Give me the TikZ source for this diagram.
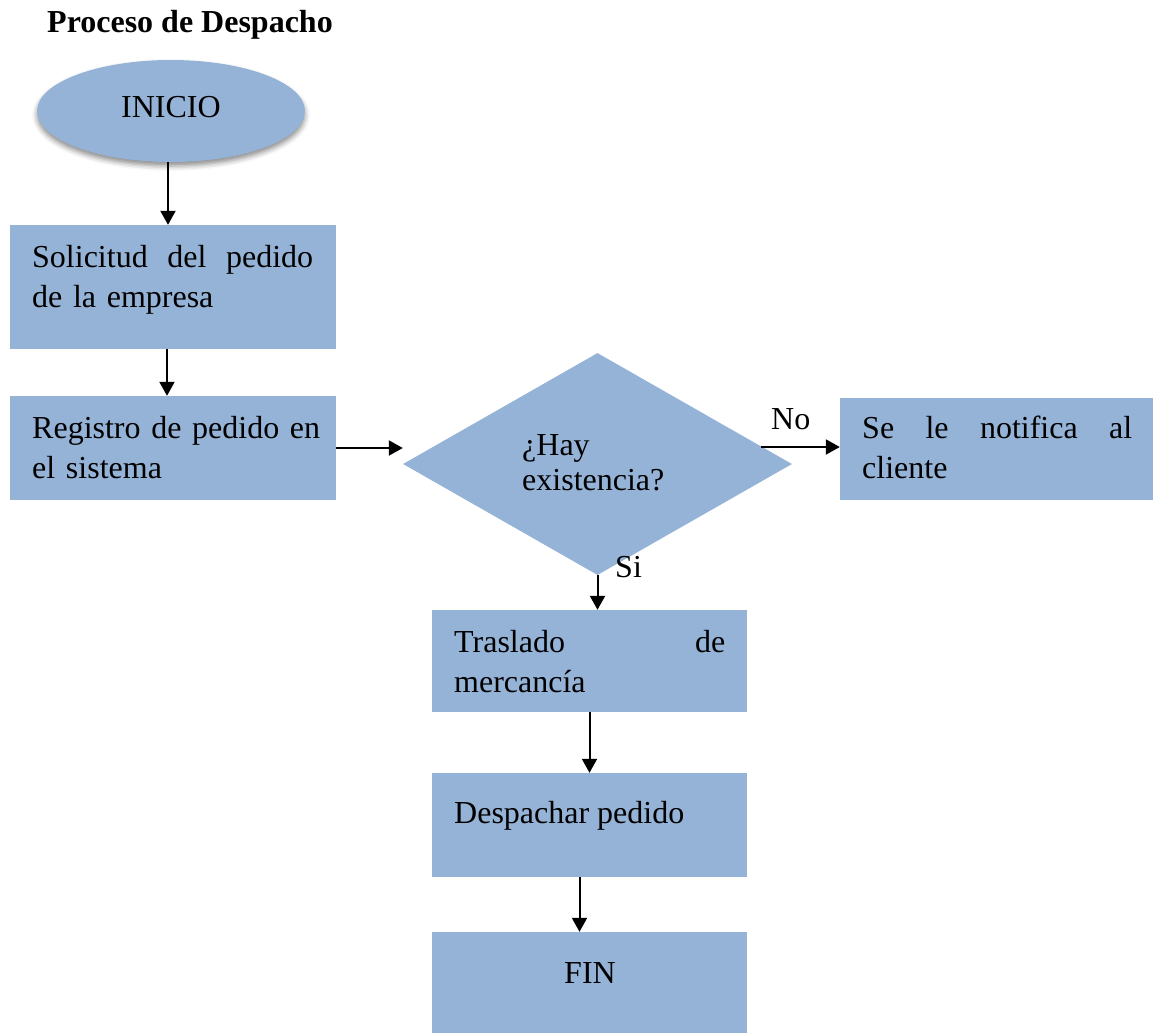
\documentclass[tikz,border=0pt]{standalone}
\usepackage{fontspec}
\setmainfont{Liberation Serif}
\usetikzlibrary{shapes.geometric,arrows.meta,calc,shadows.blur}
\definecolor{boxblue}{RGB}{149,179,215}
\begin{document}
\begin{tikzpicture}[x=1pt,y=-1pt,
  txt/.style={font=\fontsize{32}{40}\selectfont,inner sep=0pt,anchor=base west},
  stepbox/.style={rectangle,fill=boxblue,inner sep=0pt},
  arr/.style={line width=2pt,-{Triangle[length=14pt,width=15pt]}},
  lbl/.style={font=\fontsize{32}{40}\selectfont,inner sep=0pt,anchor=base west}]
\useasboundingbox (0,0) rectangle (1153,1034);

% title
\node[txt,font=\fontsize{32}{40}\selectfont\bfseries] (title) at (47,32) {Proceso de Despacho};

% start ellipse
\node[ellipse,fill=boxblue,minimum width=268pt,minimum height=102pt,inner sep=0pt,
  blur shadow={shadow xshift=0pt,shadow yshift=-4pt,shadow blur radius=5pt,shadow opacity=45}]
  (start) at (171,111) {};
\node[txt,anchor=base] (starttxt) at (171,117) {INICIO};

% process boxes
\node[stepbox,minimum width=326pt,minimum height=124pt] (b1) at (173,287) {};
\node[stepbox,minimum width=326pt,minimum height=104pt] (b2) at (173,448) {};
\node[stepbox,minimum width=313pt,minimum height=102pt] (b3) at (996.5,449) {};
\node[stepbox,minimum width=315pt,minimum height=102pt] (b4) at (589.5,661) {};
\node[stepbox,minimum width=315pt,minimum height=104pt] (b5) at (589.5,825) {};
\node[stepbox,minimum width=315pt,minimum height=101pt] (b6) at (589.5,982.5) {};

% decision
\node[diamond,fill=boxblue,minimum width=389pt,minimum height=222pt,inner sep=0pt] (dia) at (597.5,464) {};

% texts
\node[txt,text width=281pt,align=left] (t1) at (32,267) {Solicitud\hfill del\hfill pedido\\de la empresa};
\node[txt,text width=300pt,align=left] (t2) at (32,438) {\hbox to 281pt{Registro de pedido en}\\el sistema};
\node[txt,text width=270pt,align=left] (t3) at (862,438) {Se\hfill le\hfill notifica\hfill al\\cliente};
\node[txt,text width=271pt,align=left] (t4) at (454,652) {Traslado\hfill de\\mercancía};
\node[txt] (t5) at (454,823) {Despachar pedido};
\node[txt,anchor=base] (t6) at (590,983) {FIN};
\node[txt,font=\fontsize{32}{35}\selectfont,text width=200pt,align=left] (td) at (522,455) {¿Hay\\existencia?};

% connectors
\draw[arr] ($(start.south)+(-3,0)$) -- ($(b1.north)+(-5,0)$);
\draw[arr] ($(b1.south)+(-6,0)$) -- ($(b2.north)+(-6,0)$);
\draw[arr] (b2.east) -- (b2.east -| dia.west);
\coordinate (nostart) at ($(dia.east)+(-31,-17)$);
\draw[arr] (nostart) -- (nostart -| b3.west);
\draw[arr] (dia.south) -- (b4.north -| dia.south);
\draw[arr] (b4.south) -- (b5.north);
\draw[arr] ($(b5.south)+(-10,0)$) -- ($(b6.north)+(-10,0)$);

% branch labels
\node[lbl] (no) at (771,429) {No};
\node[lbl] (si) at (615,577) {Si};
\end{tikzpicture}
\end{document}
